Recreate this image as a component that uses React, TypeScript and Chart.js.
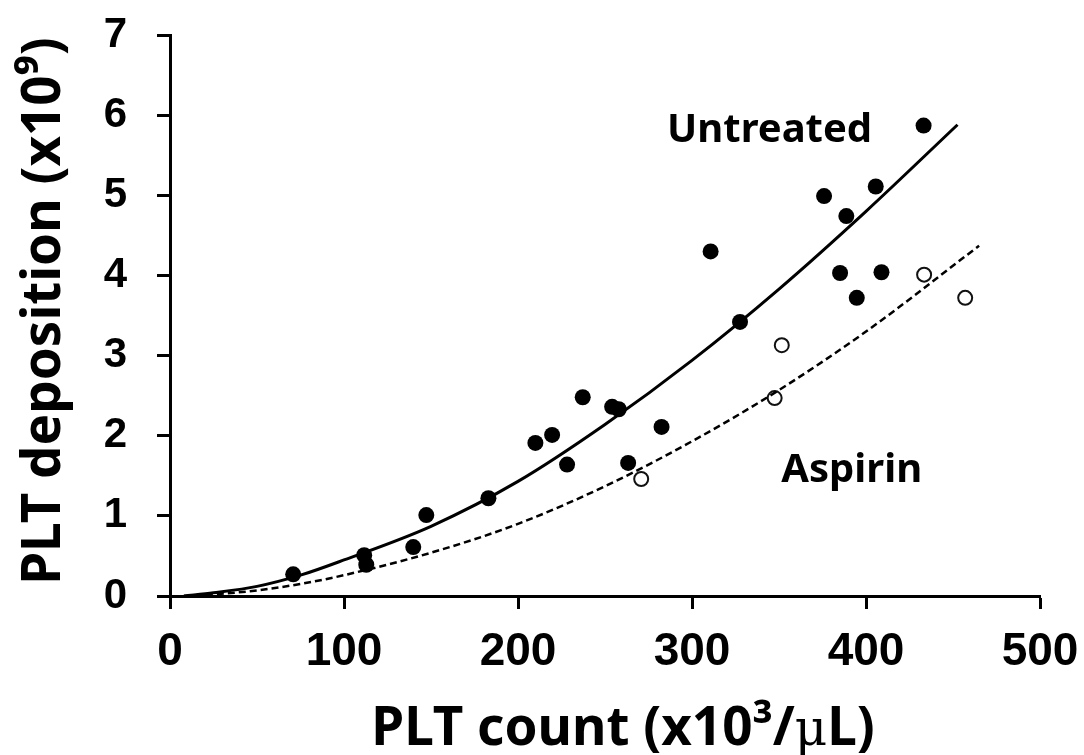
import React, { useEffect, useRef } from "react";
import { Chart, registerables } from "chart.js";

Chart.register(...registerables);

// Measured points (x: PLT count x10^3/uL, y: PLT deposition x10^9)
const untreatedX = [70.8, 111.6, 112.8, 139.8, 147.3, 183, 210, 219.6, 228.2, 237.2, 254.1, 257.9, 263.3, 282.5, 310.7, 327.6, 375.9, 385.1, 388.7, 394.7, 405.6, 408.9, 433.1];
const untreatedY = [0.27, 0.51, 0.39, 0.61, 1.01, 1.22, 1.91, 2.01, 1.64, 2.48, 2.36, 2.33, 1.66, 2.11, 4.3, 3.42, 4.99, 4.03, 4.74, 3.72, 5.11, 4.04, 5.87];

const aspirinX = [270.8, 347.5, 351.6, 433.4, 457.0];
const aspirinY = [1.46, 2.47, 3.13, 4.01, 3.72];

// Trend curves
const untreatedFitX = [8, 25, 50, 75, 100, 150, 200, 250, 300, 350, 400, 452.6];
const untreatedFitY = [0.0, 0.04, 0.12, 0.26, 0.45, 0.87, 1.43, 2.14, 2.94, 3.83, 4.8, 5.88];

const aspirinFitX = [8, 25, 50, 75, 100, 150, 200, 250, 300, 350, 400, 465];
const aspirinFitY = [0.0, 0.02, 0.07, 0.15, 0.26, 0.54, 0.9, 1.37, 1.93, 2.57, 3.3, 4.37];

const xTicks = [0, 100, 200, 300, 400, 500];
const yTicks = [0, 1, 2, 3, 4, 5, 6, 7];

const noteLabels = ["Untreated", "Aspirin"];
const noteX = [344.6, 391.8];
const noteY = [5.67, 1.42];

const toPoints = (xs: number[], ys: number[]) => xs.map((x, i) => ({ x, y: ys[i] }));

const textPlugin = {
  id: "customTexts",
  afterDraw(chart: any) {
    const ctx = chart.ctx as CanvasRenderingContext2D;
    const xs = chart.scales.x;
    const ys = chart.scales.y;
    ctx.save();
    ctx.fillStyle = "#000";
    ctx.textBaseline = "alphabetic";

    // annotations
    ctx.font = 'bold 40px "Noto Sans"';
    ctx.textAlign = "center";
    noteLabels.forEach((t, i) => {
      ctx.fillText(t, xs.getPixelForValue(noteX[i]), ys.getPixelForValue(noteY[i]));
    });

    // y title
    ctx.save();
    ctx.translate(60, 311);
    ctx.rotate(-Math.PI / 2);
    ctx.font = 'bold 53px "Noto Sans"';
    ctx.textAlign = "center";
    ctx.fillText("PLT deposition (x10\u2079)", 0, 0);
    ctx.restore();

    // x title with a serif mu
    const parts = [
      { t: "PLT count (x10\u00B3/", f: 'bold 53px "Noto Sans"' },
      { t: "\u03BC", f: '50px "DejaVu Serif"' },
      { t: "L)", f: 'bold 53px "Noto Sans"' },
    ];
    let total = 0;
    const widths = parts.map((p) => {
      ctx.font = p.f;
      const w = ctx.measureText(p.t).width;
      total += w;
      return w;
    });
    let cx = 623 - total / 2;
    ctx.textAlign = "left";
    parts.forEach((p, i) => {
      ctx.font = p.f;
      ctx.fillText(p.t, cx, 745);
      cx += widths[i];
    });
    ctx.restore();
  },
};

const zeroPad = (s: any) => {
  s.paddingTop = 0;
  s.paddingBottom = 0;
  s.paddingLeft = 0;
  s.paddingRight = 0;
};

export default function App() {
  const ref = useRef<HTMLCanvasElement>(null);

  useEffect(() => {
    if (!ref.current) return;
    const chart = new Chart(ref.current, {
      type: "scatter",
      data: {
        datasets: [
          {
            label: "Untreated",
            data: toPoints(untreatedX, untreatedY),
            backgroundColor: "#000",
            borderColor: "#000",
            pointRadius: 8,
            pointBorderWidth: 0,
          },
          {
            label: "Untreated fit",
            data: toPoints(untreatedFitX, untreatedFitY),
            showLine: true,
            borderColor: "#000",
            borderWidth: 3,
            pointRadius: 0,
            cubicInterpolationMode: "monotone",
          } as any,
          {
            label: "Aspirin fit",
            data: toPoints(aspirinFitX, aspirinFitY),
            showLine: true,
            borderColor: "#000",
            borderWidth: 2.5,
            borderDash: [7, 4],
            pointRadius: 0,
            cubicInterpolationMode: "monotone",
          } as any,
          {
            label: "Aspirin",
            data: toPoints(aspirinX, aspirinY),
            backgroundColor: "#fff",
            borderColor: "#111",
            pointRadius: 7,
            pointBorderWidth: 2,
          },
        ],
      },
      options: {
        animation: false,
        responsive: false,
        devicePixelRatio: 1,
        layout: { padding: { top: 35, right: 44, left: 0, bottom: 0 } },
        plugins: { legend: { display: false }, tooltip: { enabled: false } },
        scales: {
          x: {
            type: "linear",
            min: 0,
            max: 500,
            afterFit: (s: any) => {
              s.height = 159;
              zeroPad(s);
            },
            afterBuildTicks: (s: any) => {
              s.ticks = xTicks.map((v) => ({ value: v }));
            },
            ticks: {
              color: "#000",
              font: { family: '"Liberation Sans", Arial', size: 46, weight: "bold" },
              padding: 16,
              maxRotation: 0,
            },
            grid: {
              drawOnChartArea: false,
              drawTicks: true,
              tickLength: 13,
              tickWidth: 3,
              tickColor: "#000",
            },
            border: { display: true, color: "#000", width: 3 },
          },
          y: {
            type: "linear",
            min: 0,
            max: 7,
            afterFit: (s: any) => {
              s.width = 170;
              zeroPad(s);
            },
            afterBuildTicks: (s: any) => {
              s.ticks = yTicks.map((v) => ({ value: v }));
            },
            ticks: {
              color: "#000",
              font: { family: '"Liberation Sans", Arial', size: 42, weight: "bold" },
              padding: 30,
            },
            grid: {
              drawOnChartArea: false,
              drawTicks: true,
              tickLength: 13,
              tickWidth: 3,
              tickColor: "#000",
            },
            border: { display: true, color: "#000", width: 3 },
          },
        },
      },
      plugins: [textPlugin],
    });
    return () => chart.destroy();
  }, []);

  return (
    <div style={{ position: "fixed", left: 0, top: 0, width: 1084, height: 755, background: "#fff" }}>
      <canvas ref={ref} width={1084} height={755} style={{ display: "block" }} />
    </div>
  );
}
